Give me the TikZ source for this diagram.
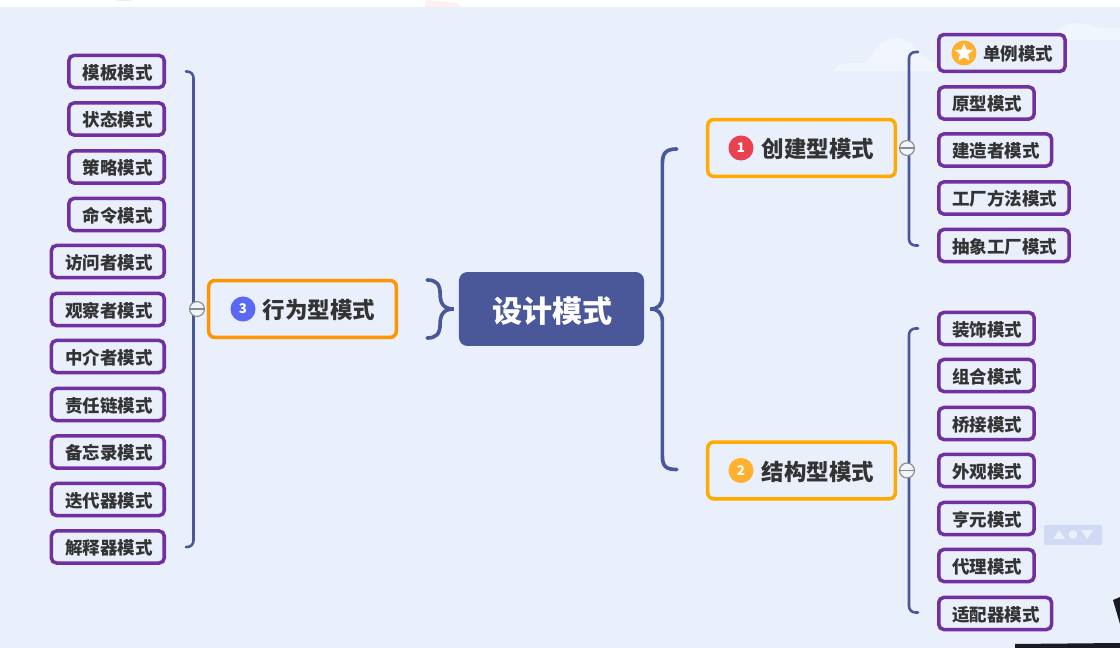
\documentclass[tikz,border=0pt]{standalone}
\usepackage{fontspec}
\setmainfont{Noto Sans CJK SC}
\usetikzlibrary{calc,shapes.geometric}
\definecolor{paleblue}{HTML}{E9EFFB}
\definecolor{cloudblue}{HTML}{F1F5FD}
\definecolor{panelblue}{HTML}{D0DAF5}
\definecolor{navyblue}{HTML}{4A5899}
\definecolor{amberline}{HTML}{FFAA00}
\definecolor{orangeline}{HTML}{FF9500}
\definecolor{leafpurple}{HTML}{7030A0}
\definecolor{darktext}{HTML}{333333}
\definecolor{badgered}{HTML}{E84150}
\definecolor{badgegold}{HTML}{FFB02E}
\definecolor{badgeblue}{HTML}{5B67F5}
\definecolor{foldgray}{HTML}{8A8A8A}
\definecolor{cornerblack}{HTML}{1A1A22}
\tikzset{
  nudged/.style={execute at begin node=\hspace*{.7pt}, execute at end node=\hspace*{-.7pt}},
  rootbox/.style={nudged, rounded corners=6pt, fill=navyblue, text=white, inner sep=0pt, minimum width=131.6pt, minimum height=52.6pt, text height=20.6pt, text depth=2pt, font=\fontsize{21.4}{25}\selectfont\bfseries},
  mainbox/.style={nudged, rounded corners=4.5pt, draw=amberline, fill=paleblue, text=darktext, line width=2.5pt, inner sep=0pt, minimum width=133.5pt, minimum height=40.5pt, text height=15.4pt, text depth=1.6pt, font=\fontsize{16}{20}\selectfont\bfseries},
  leafbox/.style={nudged, rounded corners=3.6pt, draw=leafpurple, fill=paleblue, text=darktext, line width=2.5pt, inner xsep=9pt, inner ysep=0pt, minimum height=22.8pt, text height=12.4pt, text depth=1.4pt, font=\fontsize{12.45}{15}\selectfont\bfseries},
  badge/.style={circle, inner sep=0pt, minimum size=17.8pt, text=white, font=\fontsize{9.5}{11}\selectfont\bfseries},
  foldmark/.style={circle, draw=foldgray, fill=paleblue!70!white, line width=0.8pt, inner sep=0pt, minimum size=10.6pt, path picture={\draw[foldgray, line width=1.4pt] (path picture bounding box.west) -- (path picture bounding box.east);}},
  mainline/.style={draw=navyblue, line width=2.6pt, line cap=round},
  subline/.style={draw=navyblue, line width=1.8pt, line cap=round, rounded corners=4.5pt},
}
\begin{document}
\begin{tikzpicture}[x=0.025cm,y=-0.025cm]
\useasboundingbox (0,0) rectangle (1120,648);
\fill[white] (0,0) rectangle (1120,7);
\fill[paleblue] (0,7) rectangle (1120,648);
% strip and corner
\fill[red!6] (425,7) -- (425,1) -- (428,0) -- (458,3) -- (461,7) -- cycle;
\fill[black!8] (115,0) .. controls (120,1.5) and (128,1.5) .. (133,0) -- cycle;
\fill[cornerblack] (1015,648) -- (1015,644) -- (1120,643) -- (1120,648) -- cycle;
\fill[cornerblack] (1113,600) -- (1120,597) -- (1120,624) -- cycle;
% clouds
\fill[cloudblue] (833,71) .. controls (836,63) and (850,62) .. (860,63) .. controls (872,65) and (874,38) .. (896,38) .. controls (915,38) and (920,62) .. (940,64) .. controls (955,65) and (970,66) .. (976,71) -- cycle;
\fill[cloudblue] (1045,40) .. controls (1052,33) and (1062,24) .. (1075,23) .. controls (1090,23) and (1100,32) .. (1120,27) -- (1120,40) -- cycle;
% panel
\fill[panelblue, rounded corners=1.5pt] (1044,525) rectangle (1102,545);
\fill[paleblue] (1053,539) -- (1059,530) -- (1065,539) -- cycle;
\fill[paleblue] (1073,534.5) circle (4.3);
\fill[paleblue] (1081,530) -- (1093,530) -- (1087,539) -- cycle;
% root and main topics
\node[rootbox] (design) at (551.5,309) {设计模式};
\node[mainbox] (create) at (801.5,148) {\hspace*{22pt}创建型模式};
\node[mainbox] (struct) at (801.5,470.5) {\hspace*{22pt}结构型模式};
\node[mainbox, draw=orangeline] (behave) at (302.5,309) {\hspace*{22pt}行为型模式};
\node[badge, fill=badgered] (badgeone) at (741,148) {1};
\node[badge, fill=badgegold] (badgetwo) at (741,470.5) {2};
\node[badge, fill=badgeblue] (badgethree) at (243,309) {3};
% create leaves
\node[leafbox, anchor=west, minimum height=26.2pt] (single) at (937,53) {\hspace*{22pt}单例模式};
\node[badge, fill=badgegold] (badgestar) at (964,53) {};
\node[star, star points=5, star point ratio=2.2, fill=white, inner sep=0pt, minimum size=13.5pt] (starmark) at (964,53) {};
\node[leafbox, anchor=west] (proto) at (937,103) {原型模式};
\node[leafbox, anchor=west] (builder) at (937,150) {建造者模式};
\node[leafbox, anchor=west] (factory) at (937,198) {工厂方法模式};
\node[leafbox, anchor=west] (abstract) at (937,245.5) {抽象工厂模式};
% struct leaves
\node[leafbox, anchor=west] (decor) at (937,328.5) {装饰模式};
\node[leafbox, anchor=west] (compo) at (937,375.5) {组合模式};
\node[leafbox, anchor=west] (bridge) at (937,423.5) {桥接模式};
\node[leafbox, anchor=west] (facade) at (937,470.5) {外观模式};
\node[leafbox, anchor=west] (flyweight) at (937,518.5) {亨元模式};
\node[leafbox, anchor=west] (proxy) at (937,565.5) {代理模式};
\node[leafbox, anchor=west] (adapter) at (937,613.5) {适配器模式};
% behave leaves
\node[leafbox, anchor=east] (template) at (166,71.5) {模板模式};
\node[leafbox, anchor=east] (state) at (166,119) {状态模式};
\node[leafbox, anchor=east] (strategy) at (166,167) {策略模式};
\node[leafbox, anchor=east] (command) at (166,214.5) {命令模式};
\node[leafbox, anchor=east] (visitor) at (166,261.5) {访问者模式};
\node[leafbox, anchor=east] (observer) at (166,309.5) {观察者模式};
\node[leafbox, anchor=east] (mediator) at (166,356.5) {中介者模式};
\node[leafbox, anchor=east] (chain) at (166,404.5) {责任链模式};
\node[leafbox, anchor=east] (memento) at (166,452) {备忘录模式};
\node[leafbox, anchor=east] (iterator) at (166,499.5) {迭代器模式};
\node[leafbox, anchor=east] (interp) at (166,547) {解释器模式};
% root brackets
\draw[mainline] ($(create.west)+(-29,1)$) .. controls ($(create.west)+(-40,1)$) and ($(create.west)+(-43.5,5)$) .. ($(create.west)+(-43.5,16)$) -- ($(create.west)+(-43.5,148)$) .. controls ($(create.west)+(-43.5,157)$) and (658,309) .. ($(design.east)+(6,0)$) .. controls (658,309) and ($(create.west)+(-43.5,165)$) .. ($(create.west)+(-43.5,174)$) -- ($(struct.west)+(-43.5,-15)$) .. controls ($(struct.west)+(-43.5,-4)$) and ($(struct.west)+(-40,-1)$) .. ($(struct.west)+(-29,-1)$);
\draw[mainline] ($(behave.east)+(29,-29)$) .. controls ($(behave.east)+(38,-29)$) and ($(behave.east)+(42,-25)$) .. ($(behave.east)+(42,-15)$) .. controls ($(behave.east)+(42,-5)$) and ($(behave.east)+(46,0)$) .. ($(design.west)+(-5,0)$) .. controls ($(behave.east)+(46,0)$) and ($(behave.east)+(42,5)$) .. ($(behave.east)+(42,15)$) .. controls ($(behave.east)+(42,25)$) and ($(behave.east)+(38,29)$) .. ($(behave.east)+(29,29)$);
% leaf brackets
\draw[subline] ($(single.west)+(-19,-1)$) -- ($(single.west)+(-28,-1)$) -- ($(abstract.west)+(-28,0)$) -- ($(abstract.west)+(-19,0)$);
\draw[subline] ($(decor.west)+(-19,0)$) -- ($(decor.west)+(-28,0)$) -- ($(adapter.west)+(-28,-1)$) -- ($(adapter.west)+(-19,-1)$);
\draw[subline] ($(template.east)+(20,0)$) -- ($(template.east)+(27.5,0)$) -- ($(interp.east)+(27.5,0)$) -- ($(interp.east)+(20,0)$);
% fold marks
\node[foldmark] (foldcreate) at (907,148) {};
\node[foldmark] (foldstruct) at (907,470.5) {};
\node[foldmark] (foldbehave) at (197,309) {};
\end{tikzpicture}
\end{document}
